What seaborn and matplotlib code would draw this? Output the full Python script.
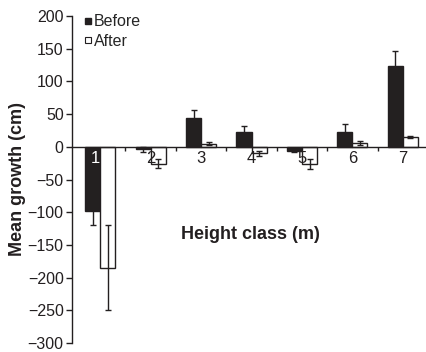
import numpy as np
import pandas as pd
import matplotlib
matplotlib.use("Agg")
import matplotlib.pyplot as plt
from matplotlib.lines import Line2D
import seaborn as sns

categories = ["1", "2", "3", "4", "5", "6", "7"]
before = [-98, -4, 44, 22, -6, 23, 124]
before_err = [22, 4, 13, 10, 2, 12, 22]
after = [-185, -26, 5, -10, -26, 6, 15]
after_err = [65, 7, 2, 4, 8, 3, 2]
series = ["Before", "After"]
y_ticks = [-300, -250, -200, -150, -100, -50, 0, 50, 100, 150, 200]

sns.set_theme(style="white")
plt.rcParams['font.family'] = ['Liberation Sans', 'DejaVu Sans']
plt.rcParams['axes.unicode_minus'] = True

df = pd.DataFrame({
    "cls": categories * 2,
    "val": before + after,
    "err": before_err + after_err,
    "series": [series[0]] * len(categories) + [series[1]] * len(categories),
})

fig = plt.figure(figsize=(4.27, 3.52), dpi=100)
ax = fig.add_axes([72 / 427, 9 / 352, 356 / 427, 327 / 352])

sns.barplot(data=df, x="cls", y="val", hue="series", order=categories,
            hue_order=series, palette={"Before": "#231f20", "After": "white"},
            edgecolor="#231f20", linewidth=1.0, width=0.60, errorbar=None,
            legend=False, ax=ax)

# error bars from bar patch centres
patches = [p for p in ax.patches if p.get_width() > 0][:2 * len(categories)]
xs = [p.get_x() + p.get_width() / 2 for p in patches]
ax.errorbar(xs[:len(categories)], before, yerr=before_err, fmt="none",
            ecolor="#231f20", elinewidth=1.0, capsize=2.5, capthick=1.0, zorder=1)
for p in patches:
    p.set_zorder(2)
ax.errorbar(xs[len(categories):], after, yerr=after_err, fmt="none",
            ecolor="#231f20", elinewidth=1.0, capsize=2.5, capthick=1.0, zorder=3)

ax.set_axisbelow(False)
ax.set_ylim(-300, 200)
ax.set_xlim(-0.56, 6.5)
ax.set_yticks(y_ticks)
ax.set_yticklabels([f"{t}".replace("-", "\u2212") for t in y_ticks], fontsize=11.5)

for s in ["top", "right"]:
    ax.spines[s].set_visible(False)
ax.spines["bottom"].set_position(("data", 0))
for s in ["left", "bottom"]:
    ax.spines[s].set_color("#231f20")
    ax.spines[s].set_linewidth(1.0)

ax.set_xticks(range(len(categories)))
ax.set_xticklabels(categories, fontsize=12)
ax.set_xticks(np.arange(0.5, len(categories) - 0.5, 1.0), minor=True)
ax.tick_params(axis="x", which="major", length=0, pad=3, colors="#231f20")
ax.tick_params(axis="x", which="minor", length=3, width=1, direction="out",
               colors="#231f20", bottom=True)
ax.tick_params(axis="y", which="major", length=4, width=1, direction="out",
               left=True, colors="#231f20", pad=2)
first = ax.get_xticklabels()[0]
first.set_color("white")
first.set_horizontalalignment("right")

ax.set_ylabel("Mean growth (cm)", fontsize=13, fontweight="bold", color="#231f20", labelpad=1)
ax.set_xlabel("Height class (m)", fontsize=13, fontweight="bold", color="#231f20")
ax.xaxis.set_label_coords(0.5, 0.358)

handles = [
    Line2D([], [], marker="s", linestyle="none", markersize=5,
           markerfacecolor="#231f20", markeredgecolor="#231f20"),
    Line2D([], [], marker="s", linestyle="none", markersize=5,
           markerfacecolor="white", markeredgecolor="#231f20", markeredgewidth=0.8),
]
ax.legend(handles, series, loc="upper left", bbox_to_anchor=(0.015, 1.025),
          frameon=False, fontsize=11.5, handlelength=0.5, handletextpad=0.15,
          labelspacing=0.3, borderaxespad=0)

ax.grid(False)
fig.savefig("out.png", dpi=100)
